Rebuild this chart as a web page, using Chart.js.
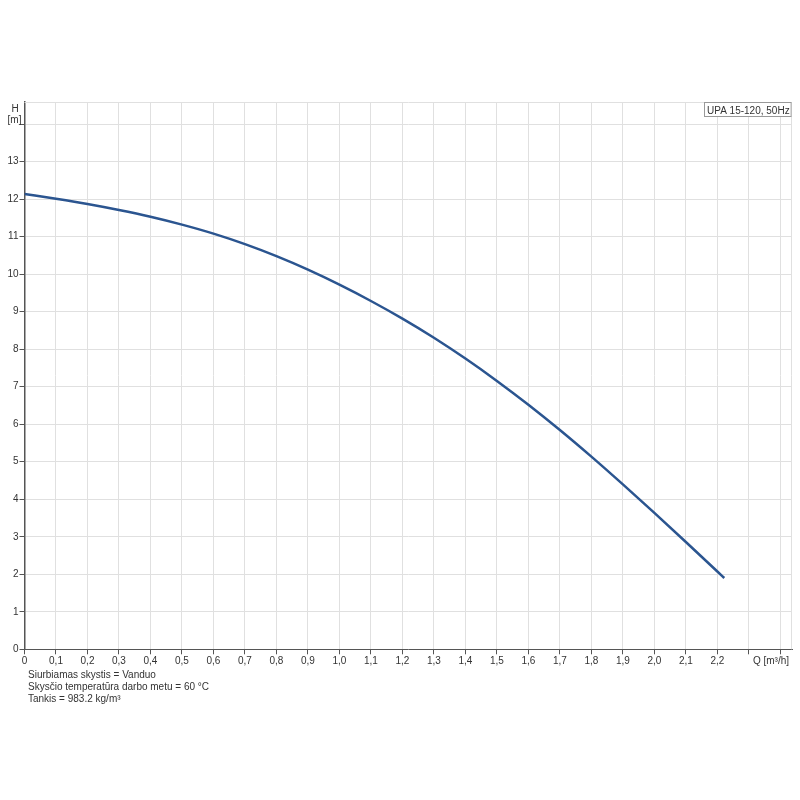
<!DOCTYPE html>
<html><head><meta charset="utf-8">
<script src="https://cdn.jsdelivr.net/npm/chart.js@4.4.1/dist/chart.umd.min.js"></script>
<style>html,body{margin:0;padding:0;background:#fff}#wrap{width:800px;height:800px}</style>
</head><body><div id="wrap"><canvas id="c" width="800" height="800"></canvas></div>
<script>
const qValues = [0, 0.1, 0.2, 0.3, 0.4, 0.5, 0.6, 0.7, 0.8, 0.9, 1.0, 1.1, 1.2, 1.3, 1.4, 1.5, 1.6, 1.7, 1.8, 1.9, 2.0, 2.1, 2.2, 2.222];
const hValues = [12.14, 12.01, 11.87, 11.71, 11.53, 11.32, 11.08, 10.80, 10.48, 10.12, 9.72, 9.285, 8.815, 8.305, 7.75, 7.155, 6.52, 5.845, 5.135, 4.395, 3.635, 2.86, 2.075, 1.90];
const xTickValues = [0, 0.1, 0.2, 0.3, 0.4, 0.5, 0.6, 0.7, 0.8, 0.9, 1.0, 1.1, 1.2, 1.3, 1.4, 1.5, 1.6, 1.7, 1.8, 1.9, 2.0, 2.1, 2.2, 2.3, 2.4];
const xTickLabels = ['0', '0,1', '0,2', '0,3', '0,4', '0,5', '0,6', '0,7', '0,8', '0,9', '1,0', '1,1', '1,2', '1,3', '1,4', '1,5', '1,6', '1,7', '1,8', '1,9', '2,0', '2,1', '2,2', '', ''];
const yTickValues = [0, 1, 2, 3, 4, 5, 6, 7, 8, 9, 10, 11, 12, 13, 14];
const yTickLabels = ['0', '1', '2', '3', '4', '5', '6', '7', '8', '9', '10', '11', '12', '13', ''];
const xAxisTitle = 'Q [m³/h]';
const yAxisTitle = ['H', '[m]'];
const legendText = 'UPA 15-120, 50Hz';
const infoLines = ['Siurbiamas skystis = Vanduo', 'Skysčio temperatūra darbo metu = 60 °C', 'Tankis = 983.2 kg/m³'];

const FONT = '"Liberation Sans", Arial, sans-serif';
const TXT = '#333';
const GRID = '#e0e0e0';
const AXIS = '#555';

const points = qValues.map((q, i) => ({x: q, y: hValues[i]}));

const decor = {
  id: 'decor',
  afterDraw(chart) {
    const ctx = chart.ctx, a = chart.chartArea;
    ctx.save();
    ctx.strokeStyle = GRID; ctx.lineWidth = 1;
    ctx.beginPath();
    ctx.moveTo(a.left, Math.round(a.top) + 0.5); ctx.lineTo(a.right, Math.round(a.top) + 0.5);
    ctx.moveTo(Math.round(a.right) - 0.5, a.top); ctx.lineTo(Math.round(a.right) - 0.5, a.bottom);
    ctx.stroke();
    ctx.font = '10px ' + FONT;
    const w = ctx.measureText(legendText).width + 5;
    const bx = Math.round(a.right - w) + 0.5, by = Math.round(a.top) + 0.5;
    ctx.fillStyle = '#fff';
    ctx.fillRect(bx, by, w, 14);
    ctx.strokeStyle = '#999';
    ctx.strokeRect(bx, by, w - 1, 14);
    ctx.fillStyle = TXT;
    ctx.textBaseline = 'alphabetic';
    ctx.textAlign = 'left';
    ctx.fillText(legendText, bx + 2.5, by + 11);
    ctx.textAlign = 'center';
    ctx.fillText(yAxisTitle[0], 15, 111.5);
    ctx.fillText(yAxisTitle[1], 14.5, 122.5);
    ctx.fillText(xAxisTitle, 771, 663.5);
    ctx.textAlign = 'left';
    infoLines.forEach((t, i) => ctx.fillText(t, 28, 677.5 + i * 12));
    ctx.restore();
  }
};

new Chart(document.getElementById('c'), {
  type: 'scatter',
  data: {
    datasets: [{
      data: points,
      showLine: true,
      borderColor: '#2b5590',
      borderWidth: 2.5,
      pointRadius: 0,
      fill: false,
      cubicInterpolationMode: 'monotone'
    }]
  },
  options: {
    responsive: false,
    animation: false,
    devicePixelRatio: 1,
    layout: {padding: {top: 102, right: 8, left: 0, bottom: 0}},
    plugins: {legend: {display: false}, tooltip: {enabled: false}, title: {display: false}},
    scales: {
      x: {
        type: 'linear', min: 0, max: 2.437,
        afterBuildTicks: s => { s.ticks = xTickValues.map(v => ({value: v})); },
        afterFit: s => { s.height = 150.7; },
        ticks: {
          autoSkip: false, maxRotation: 0, padding: 1,
          color: TXT, font: {family: FONT, size: 10},
          callback: (v, i) => xTickLabels[i]
        },
        grid: {color: GRID, tickColor: AXIS, tickLength: 5, drawTicks: true},
        border: {display: true, color: AXIS, width: 1}
      },
      y: {
        type: 'linear', min: 0, max: 14.59,
        afterBuildTicks: s => { s.ticks = yTickValues.map(v => ({value: v})); },
        afterFit: s => { s.width = 24.5; },
        ticks: {
          autoSkip: false, padding: 1,
          color: TXT, font: {family: FONT, size: 10},
          callback: (v, i) => yTickLabels[i]
        },
        grid: {color: GRID, tickColor: AXIS, tickLength: 5, drawTicks: true},
        border: {display: true, color: AXIS, width: 1.5}
      }
    }
  },
  plugins: [decor]
});
</script>
</body></html>
